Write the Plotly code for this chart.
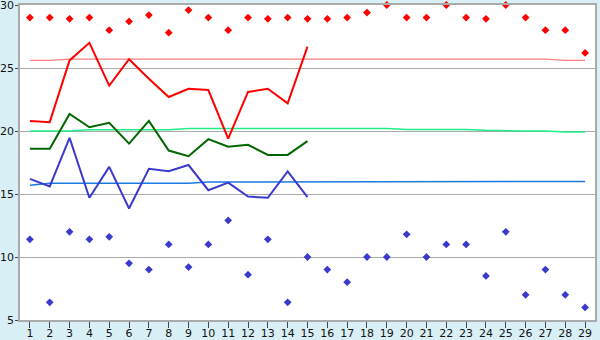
import plotly.graph_objects as go

days = list(range(1, 30))

# upper scatter (red diamonds)
red_pts = [29, 29, 28.9, 29, 28, 28.7, 29.2, 27.8, 29.6, 29,
           28, 29, 28.9, 29, 28.9, 28.9, 29, 29.4, 30, 29,
           29, 30, 29, 28.9, 30, 29, 28, 28, 26.2]
# red line (days 1-15)
red_line = [20.8, 20.7, 25.6, 27.0, 23.6, 25.7, 24.15, 22.7, 23.35, 23.25,
            19.4, 23.1, 23.35, 22.2, 26.7]
red_mean = [25.6, 25.6] + [25.7] * 25 + [25.6, 25.6]

# green line (days 1-15)
green_line = [18.6, 18.6, 21.35, 20.3, 20.65, 19.0, 20.8, 18.45, 18.0, 19.35,
              18.75, 18.9, 18.1, 18.1, 19.2]
green_mean = [20.0, 20.0, 20.0, 20.1, 20.1, 20.1, 20.1, 20.1] + [20.2] * 11 + \
             [20.12, 20.12, 20.12, 20.12, 20.05, 20.0, 20.0, 20.0, 19.92, 19.92]

# blue line (days 1-15)
blue_line = [16.2, 15.6, 19.45, 14.7, 17.15, 13.85, 17.0, 16.8, 17.3, 15.3,
             15.9, 14.8, 14.7, 16.8, 14.75]
blue_mean = [15.7] + [15.85] * 8 + [15.95] * 10 + [16.0] * 10

# lower scatter (blue diamonds)
blue_pts = [11.4, 6.4, 12.0, 11.4, 11.6, 9.5, 9.0, 11.0, 9.2, 11.0,
            12.9, 8.6, 11.4, 6.4, 10.0, 9.0, 8.0, 10.0, 10.0, 11.8,
            10.0, 11.0, 11.0, 8.5, 12.0, 7.0, 9.0, 7.0, 6.0]

y_ticks = [5, 10, 15, 20, 25, 30]

fig = go.Figure()

def line(y, color, width):
    x = days[:len(y)]
    fig.add_trace(go.Scatter(x=x, y=y, mode="lines",
                             line=dict(color=color, width=width),
                             hoverinfo="skip", showlegend=False))

line(red_mean, "#ff7f7f", 1.3)
line(green_mean, "#22ee88", 1.5)
line(blue_mean, "#1a7ae0", 1.5)
line(red_line, "#ff0000", 2)
line(green_line, "#006600", 2)
line(blue_line, "#3a3acc", 2)

for pts, col in [(red_pts, "#ff0000"), (blue_pts, "#3a3acc")]:
    fig.add_trace(go.Scatter(x=days, y=pts, mode="markers",
                             marker=dict(symbol="diamond", size=6, color=col,
                                         line=dict(width=0)),
                             cliponaxis=False, hoverinfo="skip",
                             showlegend=False))

fig.update_layout(
    width=600, height=340,
    margin=dict(l=20, r=5, t=5, b=20, autoexpand=False),
    paper_bgcolor="#d9eff6",
    plot_bgcolor="#ffffff",
    font=dict(family="DejaVu Sans", size=11, color="#111111"),
    xaxis=dict(range=[0.5, 29.5], tickmode="array", tickvals=days,
               ticktext=[str(d) for d in days],
               showgrid=False, zeroline=False,
               showline=True, linecolor="#aaaaaa", linewidth=1.5, mirror=True,
               ticks="outside", ticklen=6, tickcolor="#444444", tickwidth=1,
               ticklabeloverflow="allow", ticklabelstandoff=-4,
               automargin=False),
    yaxis=dict(range=[5, 30], tickmode="array", tickvals=y_ticks,
               ticktext=[str(v) for v in y_ticks],
               showgrid=True, gridcolor="#aaaaaa", gridwidth=1,
               zeroline=False,
               showline=True, linecolor="#aaaaaa", linewidth=1.5, mirror=True,
               ticks="outside", ticklen=3, tickcolor="#444444", tickwidth=1,
               ticklabeloverflow="allow", ticklabelstandoff=-1,
               automargin=False),
)

fig.write_html("out.html")
